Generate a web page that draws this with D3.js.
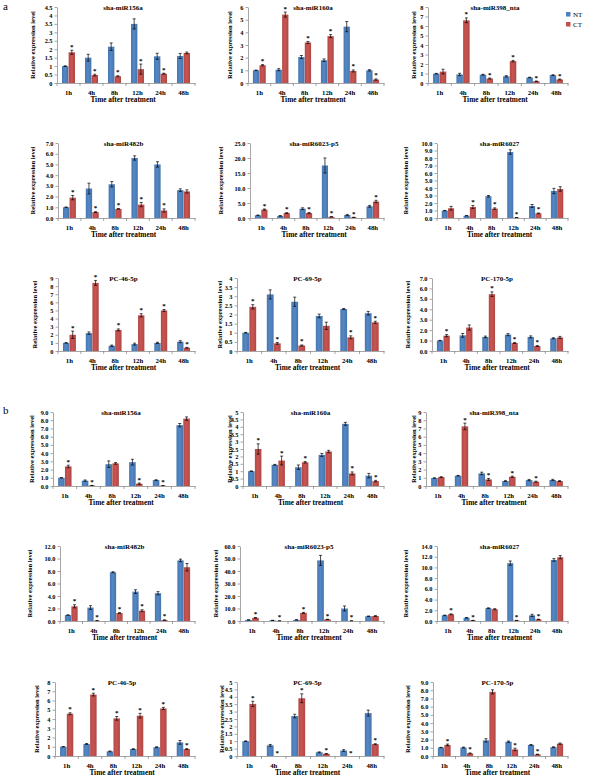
<!DOCTYPE html>
<html><head><meta charset="utf-8">
<script src="https://cdnjs.cloudflare.com/ajax/libs/d3/7.8.5/d3.min.js"></script>
<style>
body{margin:0;background:#fff}
svg text{font-family:"Liberation Serif","Times New Roman",serif;font-weight:bold;fill:#000}
</style>
</head><body>
<svg id="c" width="600" height="776"></svg>
<script>
// ---------- DATA ----------
const categories = ["1h","4h","8h","12h","24h","48h"];
const seriesNames = ["NT","CT"];
const panelLabels = ["a","b"];
const titles = [
  "sha-miR156a","sha-miR160a","sha-miR398_nta",
  "sha-miR482b","sha-miR6023-p5","sha-miR6027",
  "PC-46-5p","PC-69-5p","PC-170-5p",
  "sha-miR156a","sha-miR160a","sha-miR398_nta",
  "sha-miR482b","sha-miR6023-p5","sha-miR6027",
  "PC-46-5p","PC-69-5p","PC-170-5p"
];
const yAxisTitle = "Relative expression level";
const xAxisTitle = "Time after treatment";
const axisMax  = [4.5,6,8, 7,25,10, 9,4,7, 9,5,9, 12,60,14, 8,5,9];
const axisStep = [0.5,1,1, 1,5,1, 1,0.5,1, 1,0.5,1, 2,10,2, 1,0.5,1];
const tickFormats = ["g","g","g", "f1","f1","f1", "g","g","f1", "f1","g","g", "f1","f1","f1", "g","g","f1"];
const ntValues = [
  [1.0,1.5,2.15,3.5,1.58,1.6],
  [1.0,1.05,2.05,1.8,4.45,1.0],
  [0.98,0.9,0.87,0.7,0.58,0.83],
  [1.0,2.75,3.15,5.6,5.0,2.6],
  [0.9,0.7,3.1,17.5,1.0,3.9],
  [0.98,0.3,2.9,8.8,1.6,3.6],
  [1.0,2.2,0.65,0.85,1.0,1.15],
  [1.0,3.1,2.7,1.92,2.3,2.07],
  [1.0,1.5,1.35,1.57,1.35,1.22],
  [1.0,0.65,2.65,2.9,0.72,7.4],
  [1.0,1.43,1.27,2.1,4.2,0.7],
  [0.97,1.25,1.53,0.6,0.72,0.73],
  [0.95,2.15,7.8,4.7,4.45,9.7],
  [0.9,0.5,0.9,48.5,10.0,3.8],
  [1.05,0.6,2.4,10.8,1.05,11.4],
  [1.0,1.3,0.5,0.75,0.95,1.47],
  [1.0,0.72,2.7,0.25,0.37,2.9],
  [1.03,1.03,1.9,1.74,1.35,1.07]
];
const ctValues = [
  [1.82,0.47,0.4,0.82,0.55,1.78],
  [1.4,5.4,3.2,3.7,0.95,0.27],
  [1.2,6.6,0.47,2.3,0.18,0.37],
  [1.9,0.55,0.85,1.25,0.7,2.48],
  [2.8,1.65,1.65,0.4,0.2,5.5],
  [1.3,1.47,1.25,0.05,0.62,3.87],
  [2.0,8.4,2.6,4.4,5.0,0.4],
  [2.42,0.42,0.3,1.38,0.75,1.57],
  [1.47,2.25,5.45,0.77,0.48,1.3],
  [2.38,0.06,2.75,0.28,0.04,8.2],
  [2.5,1.72,1.6,2.33,0.85,0.33],
  [1.08,7.25,0.8,1.12,0.52,0.6],
  [2.35,0.05,1.28,1.65,0.15,8.6],
  [2.5,0.1,6.5,1.3,0.1,4.0],
  [1.25,0.1,2.2,0.1,0.3,11.9],
  [4.57,6.64,4.07,4.36,5.14,0.75],
  [3.52,0.0,3.9,0.15,0.0,0.8],
  [1.35,0.32,7.8,0.8,0.2,1.5]
];
const ntErrors = [
  [0.02,0.2,0.22,0.3,0.18,0.15],
  [0.02,0.08,0.12,0.1,0.4,0.05],
  [0.03,0.12,0.05,0.07,0.03,0.04],
  [0.03,0.5,0.25,0.2,0.25,0.12],
  [0.1,0.1,0.3,2.5,0.2,0.3],
  [0.03,0.03,0.1,0.3,0.2,0.35],
  [0.03,0.15,0.08,0.12,0.08,0.12],
  [0.02,0.25,0.25,0.1,0.03,0.1],
  [0.02,0.18,0.08,0.1,0.1,0.05],
  [0.02,0.08,0.4,0.35,0.04,0.2],
  [0.02,0.03,0.15,0.1,0.1,0.15],
  [0.02,0.04,0.15,0.05,0.08,0.08],
  [0.03,0.3,0.08,0.3,0.25,0.2],
  [0.05,0.05,0.1,4.0,2.0,0.2],
  [0.05,0.05,0.05,0.4,0.2,0.25],
  [0.02,0.05,0.04,0.04,0.05,0.2],
  [0.02,0.06,0.12,0.03,0.06,0.2],
  [0.02,0.05,0.2,0.08,0.05,0.05]
];
const ctErrors = [
  [0.12,0.05,0.03,0.3,0.03,0.05],
  [0.05,0.2,0.08,0.12,0.08,0.05],
  [0.25,0.25,0.05,0.08,0.03,0.05],
  [0.2,0.04,0.03,0.2,0.15,0.15],
  [0.2,0.15,0.2,0.05,0.05,0.4],
  [0.25,0.2,0.1,0.02,0.05,0.3],
  [0.45,0.3,0.12,0.2,0.12,0.05],
  [0.12,0.05,0.03,0.2,0.08,0.06],
  [0.1,0.25,0.22,0.05,0.04,0.1],
  [0.15,0.01,0.1,0.08,0.01,0.2],
  [0.35,0.3,0.05,0.08,0.1,0.05],
  [0.05,0.4,0.12,0.08,0.06,0.05],
  [0.25,0.02,0.05,0.15,0.02,0.6],
  [0.3,0.02,0.4,0.1,0.02,0.3],
  [0.08,0.02,0.1,0.02,0.03,0.3],
  [0.1,0.15,0.2,0.25,0.12,0.05],
  [0.18,0.0,0.3,0.02,0.0,0.03],
  [0.1,0.05,0.25,0.15,0.02,0.08]
];
// 1 = significance star above CT bar
const starFlags = [
  [1,1,1,1,1,0],[1,1,1,1,1,1],[0,1,1,1,1,1],
  [1,1,1,1,1,0],[1,1,1,1,1,1],[0,1,1,1,1,0],
  [1,1,1,1,1,1],[1,1,1,0,1,1],[1,0,1,1,1,0],
  [1,1,0,1,1,0],[1,1,1,0,1,1],[0,1,1,1,1,0],
  [1,1,1,1,1,0],[1,1,1,1,1,0],[1,1,0,1,1,0],
  [1,1,1,1,1,1],[1,1,1,1,1,1],[1,1,0,1,1,0]
];

// ---------- LAYOUT ----------
const rowsY = [[7,83],[143,218],[278,351],[412,486],[546,621],[682,756]];
const colLeft = [
  [57,248,428],[58,250,437],[58,237,432],
  [53,243,426],[60,240,437],[55,237,433]
];
const colRight = [195,384,568];
const yTitleX = [
  [33,230,414],[33,221,406],[35,220,408],
  [32,230,414],[30,216,406],[37,222,408]
];
const colors = {NT:"#4F81BD", CT:"#C0504D"};

const svg = d3.select("#c");
const defs = svg.append("defs");
seriesNames.forEach(s=>{
  const c = d3.color(colors[s]);
  const gr = defs.append("linearGradient").attr("id","g"+s).attr("x1","0").attr("x2","1").attr("y1","0").attr("y2","0");
  gr.append("stop").attr("offset","0").attr("stop-color",c.darker(0.25));
  gr.append("stop").attr("offset","0.45").attr("stop-color",c.brighter(0.15));
  gr.append("stop").attr("offset","1").attr("stop-color",c.darker(0.3));
});

const fmtF1 = d3.format(".1f");
const fmtG = v => String(+v.toFixed(2));

titles.forEach((title,i)=>{
  const row = Math.floor(i/3), col = i%3;
  const top = rowsY[row][0], bottom = rowsY[row][1];
  const left = colLeft[row][col], right = colRight[col];
  const g = svg.append("g");
  const x = d3.scaleBand().domain(categories).range([left,right]);
  const xs = d3.scaleBand().domain(seriesNames).range([0,x.bandwidth()]).paddingInner(0.04).paddingOuter(0.75);
  const y = d3.scaleLinear().domain([0,axisMax[i]]).range([bottom,top]);
  const ticks = d3.range(0, axisMax[i]+axisStep[i]/2, axisStep[i]);
  const fmt = tickFormats[i]==="f1" ? fmtF1 : fmtG;

  const data = categories.map((c,k)=>({c,k}));
  seriesNames.forEach(s=>{
    const vals = s==="NT"?ntValues[i]:ctValues[i];
    const errs = s==="NT"?ntErrors[i]:ctErrors[i];
    g.selectAll(null).data(data).enter().append("rect")
      .attr("x",d=>x(d.c)+xs(s))
      .attr("width",xs.bandwidth())
      .attr("y",d=>y(vals[d.k]))
      .attr("height",d=>y(0)-y(vals[d.k]))
      .attr("fill","url(#g"+s+")");
    const eg = g.selectAll(null).data(data.filter(d=>errs[d.k]>0)).enter().append("g")
      .attr("stroke","#000").attr("stroke-width",0.7);
    const cx = d=>x(d.c)+xs(s)+xs.bandwidth()/2;
    eg.append("line").attr("x1",cx).attr("x2",cx)
      .attr("y1",d=>y(Math.max(0,vals[d.k]-errs[d.k]))).attr("y2",d=>y(vals[d.k]+errs[d.k]));
    eg.append("line").attr("x1",d=>cx(d)-1.5).attr("x2",d=>cx(d)+1.5)
      .attr("y1",d=>y(vals[d.k]+errs[d.k])).attr("y2",d=>y(vals[d.k]+errs[d.k]));
    eg.append("line").attr("x1",d=>cx(d)-1.5).attr("x2",d=>cx(d)+1.5)
      .attr("y1",d=>y(Math.max(0,vals[d.k]-errs[d.k]))).attr("y2",d=>y(Math.max(0,vals[d.k]-errs[d.k])));
    if(s==="CT"){
      g.selectAll(null).data(data.filter(d=>starFlags[i][d.k])).enter().append("text")
        .attr("x",cx).attr("y",d=>y(vals[d.k]+errs[d.k])-1.5)
        .attr("text-anchor","middle").style("font-size","7px").text("*");
    }
  });

  const ya = g.append("g").attr("transform",`translate(${left},0)`)
    .call(d3.axisLeft(y).tickValues(ticks).tickFormat(fmt).tickSize(2.5).tickSizeOuter(0).tickPadding(2));
  ya.selectAll("text").style("font-size","6.3px").style("font-family",'"Liberation Serif",serif').style("font-weight","bold");
  ya.selectAll("line,path").attr("stroke","#7f7f7f").attr("stroke-width",0.7);

  const xa = g.append("g").attr("transform",`translate(0,${bottom})`)
    .call(d3.axisBottom(x).tickSize(0).tickPadding(7).tickSizeOuter(0));
  xa.selectAll("text").style("font-size","6.8px").style("font-family",'"Liberation Serif",serif').style("font-weight","bold");
  xa.select("path").attr("stroke","#7f7f7f").attr("stroke-width",0.7);
  xa.selectAll(null).data(categories.concat(["end"])).enter().append("line")
    .attr("x1",(d,k)=>left+k*x.step()).attr("x2",(d,k)=>left+k*x.step())
    .attr("y1",0).attr("y2",3).attr("stroke","#7f7f7f").attr("stroke-width",0.7);

  g.append("text").attr("x",(left+right)/2-3).attr("y",top+2.5).attr("text-anchor","middle")
    .style("font-size","7px").text(title);
  g.append("text").attr("x",(left+right)/2-3).attr("y",bottom+19).attr("text-anchor","middle")
    .style("font-size","7.3px").text(xAxisTitle);
  g.append("text").attr("transform",`translate(${yTitleX[row][col]+2},${(top+bottom)/2}) rotate(-90)`)
    .attr("text-anchor","middle").style("font-size","6.5px").text(yAxisTitle);
});

const lg = svg.append("g").attr("transform","translate(566,12)");
seriesNames.forEach((s,k)=>{
  lg.append("rect").attr("x",0).attr("y",k*10).attr("width",4.5).attr("height",4.5).attr("fill",colors[s]);
  lg.append("text").attr("x",7).attr("y",k*10+4.5).style("font-size","7px").style("font-weight","normal").text(s);
});
svg.append("text").attr("x",3).attr("y",10).style("font-size","11px").style("font-weight","normal").text(panelLabels[0]);
svg.append("text").attr("x",3).attr("y",414).style("font-size","11px").style("font-weight","normal").text(panelLabels[1]);
</script>
</body></html>
